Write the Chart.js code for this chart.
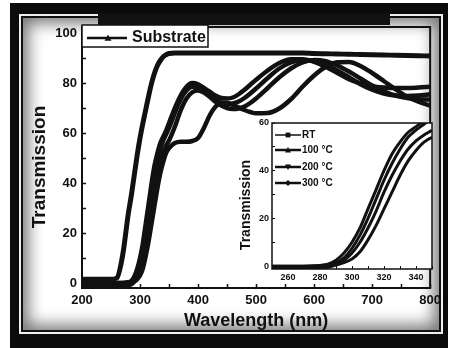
<!DOCTYPE html>
<html>
<head>
<meta charset="utf-8">
<script src="https://cdn.jsdelivr.net/npm/chart.js@4.4.1/dist/chart.umd.min.js"></script>
<style>
  html, body { margin: 0; padding: 0; }
  body { width: 450px; height: 348px; position: relative; overflow: hidden; background: #fff; }
  #frame { position: absolute; left: 10px; top: 3px; width: 438px; height: 345px; box-sizing: border-box;
           padding: 11px 5px 14px 9px; background: #0b0b0b; }
  #wline { width: 100%; height: 100%; box-sizing: border-box; border: 2px solid #efefef; }
  #bline { width: 100%; height: 100%; box-sizing: border-box; border: 2px solid #111; }
  #panel { width: 100%; height: 100%; background: #fff; box-shadow: inset 0 0 16px 5px rgba(0,0,0,0.55); }
  #topband { position: absolute; left: 98px; top: 13px; width: 292px; height: 12px; background: #111; }
  #main { position: absolute; left: 0; top: 0; }
  #inset { position: absolute; left: 230px; top: 110px; }
</style>
</head>
<body>
<div id="frame"><div id="wline"><div id="bline"><div id="panel"></div></div></div></div>
<div id="topband"></div>
<canvas id="main" width="450" height="348"></canvas>
<canvas id="inset" width="215" height="180"></canvas>
<script>
// wavelength grid (nm) shared by all curves
const wavelength = [200, 250, 260, 270, 280, 285, 290, 295, 300, 305, 310, 315, 320, 325, 330, 335, 340, 345, 350,
  360, 370, 380, 390, 400, 410, 420, 430, 440, 450, 460, 470, 480, 490, 500, 520, 540, 560, 580, 600, 620, 640,
  660, 680, 700, 720, 740, 760, 780, 800];

const substrate = [1.5, 1.5, 2, 11, 28, 35, 43, 51, 58, 64, 69.5, 75, 80, 84, 87, 89, 90.5, 91.3, 91.8,
  92, 92, 92, 92, 92, 92, 92, 92, 92, 92, 92, 92, 92, 92, 92, 92, 92, 92, 92, 91.8, 91.7, 91.6,
  91.5, 91.4, 91.3, 91.2, 91.1, 91, 90.9, 90.8];
const filmRT = [-0.8, -0.8, -0.8, -0.8, -0.8, -0.5, 0.5, 1.5, 3, 6, 11, 17, 24, 31, 38, 44, 48.5, 52, 54,
  56, 56.5, 56.5, 56.8, 58, 62, 67, 70.5, 72, 72, 71.2, 70.2, 69.2, 68.4, 67.9, 68, 69.8, 73.5, 78.5, 83, 86.5, 88.3,
  88.4, 86.8, 84, 80.8, 77.5, 74.6, 72.5, 71];
const film100 = [-0.8, -0.8, -0.8, -0.8, -0.6, 0.3, 1, 2.5, 5.5, 10, 16, 23, 31, 38, 44, 49, 52.5, 55, 57,
  62.5, 69, 73.8, 76.3, 77, 76.2, 74.5, 72.5, 71, 70, 69.6, 69.8, 70.6, 72, 73.8, 78, 82.3, 85.8, 88.2, 89.2, 88.7, 87,
  84.6, 81.8, 79, 76.7, 75, 74, 73.5, 73.4];
const film200 = [0, 0, 0, 0, 0.2, 0.5, 1.5, 3.5, 7.5, 13, 20, 28, 36, 43, 49, 54, 57, 59.5, 62,
  68, 73.5, 77, 78.5, 78.3, 77, 75, 73.3, 72.2, 71.6, 71.8, 72.6, 74, 75.8, 77.8, 82, 85.8, 88.2, 89.2, 88.8, 87.2, 85,
  82.3, 79.5, 77.3, 75.8, 75, 74.8, 75, 75.5];
const film300 = [0, 0, 0, 0, 0.3, 0.8, 2.5, 5.5, 10, 16, 24, 32, 40, 47, 52, 56, 58.5, 61, 64,
  70, 75, 78.5, 80, 79.5, 78, 76.5, 75, 74, 73.8, 74.2, 75.5, 77.3, 79.3, 81.3, 85, 88, 89.5, 89.5, 88.5, 86.5, 84,
  81.5, 79.8, 78.7, 78.2, 78, 78, 78.2, 78.5];

const filmLabels = ['RT', '100 °C', '200 °C', '300 °C'];
const filmMarkers = ['rect', 'triangle', 'triangleDown', 'rectRot'];

// ticks: labelled majors and unlabelled minors
const xTickLabels = [200, 300, 400, 500, 600, 700, 800];
const xMinorTicks = [250, 350, 450, 550, 650, 750];
const yTickLabels = [0, 20, 40, 60, 80, 100];
const yMinorTicks = [10, 30, 50, 70, 90];
const insetXTickLabels = [260, 280, 300, 320, 340];
const insetXMinorTicks = [250, 270, 290, 310, 330, 350];
const insetYTickLabels = [0, 20, 40, 60];
const insetYMinorTicks = [10, 30, 50];

const INK = '#111';
Chart.defaults.font.family = "'Liberation Sans', Arial, sans-serif";
Chart.defaults.color = INK;

const pts = vals => wavelength.map((w, i) => ({ x: w, y: vals[i] }));
const setTicks = (major, minor) => s => {
  s.ticks = major.concat(minor).sort((a, b) => a - b).map(v => ({ value: v }));
};

function drawMarker(ctx, style, x, y, r) {
  ctx.beginPath();
  if (style === 'triangle') {
    ctx.moveTo(x, y - r); ctx.lineTo(x + r, y + r * 0.8); ctx.lineTo(x - r, y + r * 0.8);
  } else if (style === 'triangleDown') {
    ctx.moveTo(x, y + r); ctx.lineTo(x + r, y - r * 0.8); ctx.lineTo(x - r, y - r * 0.8);
  } else if (style === 'rectRot') {
    ctx.moveTo(x, y - r); ctx.lineTo(x + r, y); ctx.lineTo(x, y + r); ctx.lineTo(x - r, y);
  } else {
    ctx.rect(x - r * 0.8, y - r * 0.8, r * 1.6, r * 1.6);
  }
  ctx.closePath();
  ctx.fill();
}

function sideTitle(ctx, text, x, y, size) {
  ctx.save();
  ctx.translate(x, y);
  ctx.rotate(-Math.PI / 2);
  ctx.font = 'bold ' + size + "px 'Liberation Sans', Arial, sans-serif";
  ctx.fillStyle = INK;
  ctx.textAlign = 'center';
  ctx.textBaseline = 'middle';
  ctx.fillText(text, 0, 0);
  ctx.restore();
}

const line = (label, vals, width) => ({
  label, data: pts(vals), borderColor: INK, borderWidth: width,
  pointRadius: 0, fill: false, cubicInterpolationMode: 'monotone'
});

// main chart
new Chart(document.getElementById('main'), {
  type: 'line',
  data: {
    datasets: [
      line('Substrate', substrate, 5),
      line(filmLabels[0], filmRT, 4.5),
      line(filmLabels[1], film100, 4.5),
      line(filmLabels[2], film200, 4.5),
      line(filmLabels[3], film300, 4.5)
    ]
  },
  options: {
    responsive: false,
    animation: false,
    layout: { padding: { top: 27, right: 17, left: 0, bottom: 0 } },
    plugins: { legend: { display: false }, tooltip: { enabled: false } },
    scales: {
      x: {
        type: 'linear', min: 200, max: 800,
        afterBuildTicks: setTicks(xTickLabels, xMinorTicks),
        afterFit: s => { s.height = 60; },
        border: { display: false },
        grid: { drawOnChartArea: false, tickLength: -4, tickWidth: 1.5, tickColor: INK },
        ticks: { padding: 9, maxRotation: 0, autoSkip: false, font: { size: 13, weight: 'bold' },
                 callback: v => xTickLabels.includes(v) ? String(v) : '' },
        title: { display: true, text: 'Wavelength (nm)', font: { size: 18, weight: 'bold' },
                 padding: { top: 0, bottom: 16 } }
      },
      y: {
        min: -2, max: 102.4,
        afterBuildTicks: setTicks(yTickLabels, yMinorTicks),
        afterFit: s => { s.width = 82; },
        border: { display: false },
        grid: { drawOnChartArea: false, tickLength: -4, tickWidth: 1.5, tickColor: INK },
        ticks: { padding: 9, autoSkip: false, font: { size: 13, weight: 'bold' },
                 callback: v => yTickLabels.includes(v) ? String(v) : '' }
      }
    }
  },
  plugins: [{
    id: 'mainDecor',
    afterDraw(chart) {
      const { ctx, chartArea: a } = chart;
      ctx.save();
      ctx.strokeStyle = INK;
      ctx.lineWidth = 2;
      ctx.strokeRect(a.left, a.top, a.right - a.left, a.bottom - a.top);
      // legend box
      ctx.fillStyle = '#fff';
      ctx.fillRect(a.left, 25, 126, 22);
      ctx.lineWidth = 1.5;
      ctx.strokeRect(a.left, 25, 126, 22);
      ctx.lineWidth = 2.5;
      ctx.beginPath(); ctx.moveTo(87, 38); ctx.lineTo(127, 38); ctx.stroke();
      ctx.fillStyle = INK;
      drawMarker(ctx, 'triangle', 108, 38, 3.5);
      ctx.font = "bold 16px 'Liberation Sans', Arial, sans-serif";
      ctx.textBaseline = 'middle';
      ctx.fillText(chart.data.datasets[0].label, 132, 37.5);
      ctx.restore();
      sideTitle(ctx, 'Transmission', 40, 167, 19);
    }
  }]
});

// inset: onset of the film curves
new Chart(document.getElementById('inset'), {
  type: 'line',
  data: {
    datasets: [
      line(filmLabels[0], filmRT, 3),
      line(filmLabels[1], film100, 3),
      line(filmLabels[2], film200, 3),
      line(filmLabels[3], film300, 3)
    ]
  },
  options: {
    responsive: false,
    animation: false,
    layout: { padding: { top: 13, right: 13, left: 0, bottom: 0 } },
    plugins: { legend: { display: false }, tooltip: { enabled: false } },
    scales: {
      x: {
        type: 'linear', min: 250, max: 350,
        afterBuildTicks: setTicks(insetXTickLabels, insetXMinorTicks),
        afterFit: s => { s.height = 21; },
        border: { display: false },
        grid: { drawOnChartArea: false, tickLength: -3, tickWidth: 1, tickColor: INK },
        ticks: { padding: 6, maxRotation: 0, autoSkip: false, font: { size: 9, weight: 'bold' },
                 callback: v => insetXTickLabels.includes(v) ? String(v) : '' }
      },
      y: {
        min: -1.2, max: 60,
        afterBuildTicks: setTicks(insetYTickLabels, insetYMinorTicks),
        afterFit: s => { s.width = 42; },
        border: { display: false },
        grid: { drawOnChartArea: false, tickLength: -3, tickWidth: 1, tickColor: INK },
        ticks: { padding: 6, autoSkip: false, font: { size: 9, weight: 'bold' },
                 callback: v => insetYTickLabels.includes(v) ? String(v) : '' }
      }
    }
  },
  plugins: [{
    id: 'insetDecor',
    beforeDraw(chart) {
      const { ctx, chartArea: a } = chart;
      ctx.save();
      ctx.fillStyle = '#fff';
      ctx.fillRect(a.left, a.top, a.right - a.left, a.bottom - a.top);
      ctx.restore();
    },
    afterDraw(chart) {
      const { ctx, chartArea: a } = chart;
      ctx.save();
      ctx.strokeStyle = INK;
      ctx.lineWidth = 1.5;
      ctx.strokeRect(a.left, a.top, a.right - a.left, a.bottom - a.top);
      ctx.fillStyle = INK;
      ctx.font = "bold 10px 'Liberation Sans', Arial, sans-serif";
      ctx.textBaseline = 'middle';
      const rows = [25, 40, 57, 73];
      chart.data.datasets.forEach((ds, i) => {
        const y = rows[i];
        ctx.lineWidth = i === 0 ? 1.5 : 2.5;
        ctx.beginPath(); ctx.moveTo(45, y); ctx.lineTo(71, y); ctx.stroke();
        drawMarker(ctx, filmMarkers[i], 58, y, 3);
        ctx.fillText(ds.label, 72, y);
      });
      ctx.restore();
      sideTitle(ctx, 'Transmission', 16, 95, 14);
    }
  }]
});
</script>
</body>
</html>
